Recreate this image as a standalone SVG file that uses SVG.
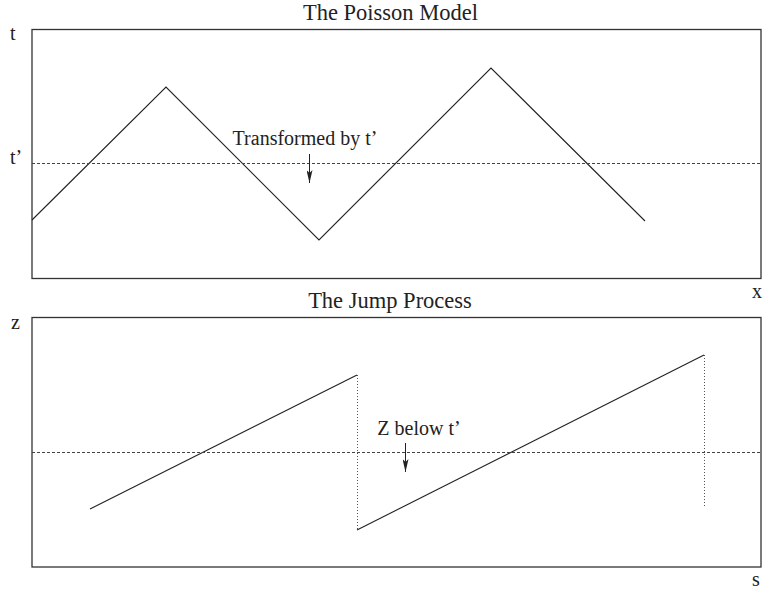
<svg xmlns="http://www.w3.org/2000/svg" width="762" height="593" viewBox="0 0 762 593">
<defs>
<marker id="ah" viewBox="0 0 13 6" refX="13" refY="3" markerWidth="13" markerHeight="6" markerUnits="userSpaceOnUse" orient="auto">
<path d="M0,0 L13,3 L0,6 L3,3 Z" fill="#222"/>
</marker>
</defs>
<style>
text{font-family:"Liberation Serif","Times New Roman",serif;fill:#222}
.title{font-size:22.5px}
.lbl{font-size:20px}
.frame{fill:none;stroke:#333;stroke-width:1.3}
.curve{fill:none;stroke:#222;stroke-width:1.1}
.dash{stroke:#444;stroke-width:1;stroke-dasharray:3,2}
.dot{stroke:#555;stroke-width:1;stroke-dasharray:1,2}
.arrow{stroke:#222;stroke-width:1}
</style>
<g id="poisson-panel">
<text class="title" x="390.5" y="20" text-anchor="middle">The Poisson Model</text>
<rect class="frame" x="32" y="29.5" width="729" height="249"/>
<text class="lbl" x="10" y="40">t</text>
<text class="lbl" x="10" y="164">t’</text>
<text class="lbl" x="752" y="298">x</text>
</g>
<g id="jump-panel">
<text class="title" x="390" y="308" text-anchor="middle">The Jump Process</text>
<rect class="frame" x="32" y="317.5" width="729" height="249.5"/>
<text class="lbl" x="11" y="329">z</text>
<text class="lbl" x="752" y="586">s</text>
</g>
<g id="connectors">
<polyline class="curve" points="32,220 166,87 319,240 491,68 645,221"/>
<line class="dash" x1="32" y1="163.5" x2="761" y2="163.5"/>
<text class="lbl" x="305" y="145" text-anchor="middle">Transformed by t’</text>
<line class="arrow" x1="309.5" y1="154" x2="309.5" y2="183" marker-end="url(#ah)"/>
<line class="curve" x1="90" y1="509" x2="357" y2="375"/>
<line class="dot" x1="357.5" y1="375" x2="357.5" y2="529"/>
<line class="curve" x1="357" y1="530" x2="704" y2="355"/>
<line class="dot" x1="704.5" y1="355" x2="704.5" y2="508"/>
<line class="dash" x1="32" y1="452.5" x2="761" y2="452.5"/>
<text class="lbl" x="419" y="435" text-anchor="middle">Z below t’</text>
<line class="arrow" x1="405.5" y1="443" x2="405.5" y2="472" marker-end="url(#ah)"/>
</g>
</svg>
